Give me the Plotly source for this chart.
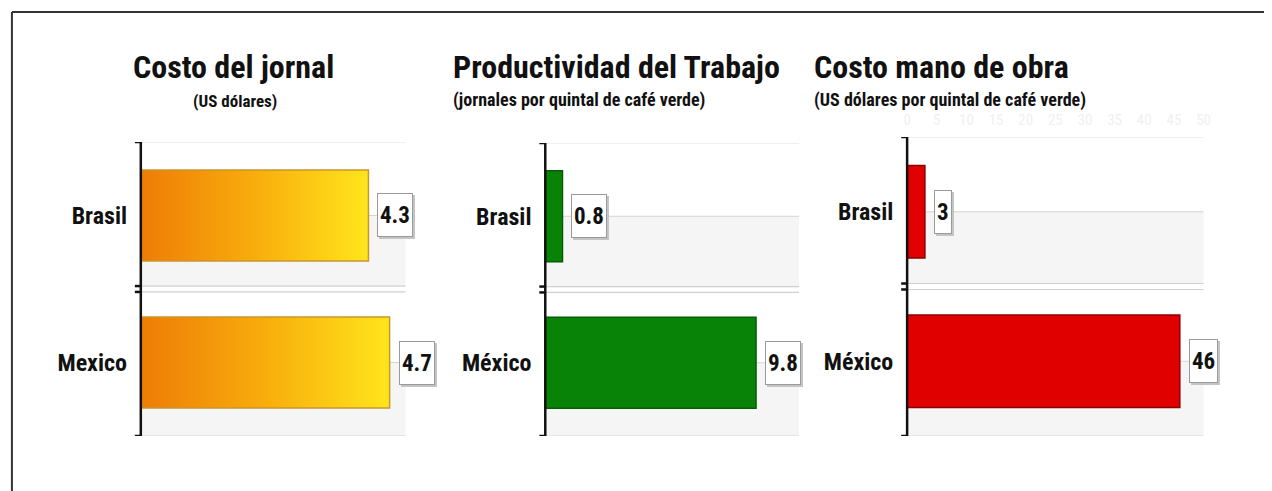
import plotly.graph_objects as go

W, H = 1272, 491

# Data
paises_jornal = ["Brasil", "Mexico"]
paises = ["Brasil", "México"]
costo_jornal = [4.3, 4.7]            # US dólares
productividad = [0.8, 9.8]           # jornales por quintal de café verde
costo_mano_obra = [3, 46]            # US dólares por quintal de café verde

titulos = ["Costo del jornal", "Productividad del Trabajo", "Costo mano de obra"]
subtitulos = ["(US dólares)", "(jornales por quintal de café verde)",
              "(US dólares por quintal de café verde)"]

FONT = "Roboto Condensed, Liberation Sans Narrow, DejaVu Sans Condensed, Arial Narrow, sans-serif"

# panel geometry in pixels: (left, right, top, bottom)
panels = [
    dict(x0=138, x1=405, y0=142, y1=436, xmax=5),
    dict(x0=546, x1=802, y0=143, y1=436, xmax=11.8),
    dict(x0=911, x1=1210, y0=137, y1=436, xmax=50),
]

BAR_W = 0.62


def px(x):
    return x / W


def py(y):
    return 1 - y / H


fig = go.Figure()
shapes = []
annotations = []

for k, p in enumerate(panels):
    sfx = "" if k == 0 else str(k + 1)
    xa, ya = "x" + sfx, "y" + sfx
    fig.layout["xaxis" + sfx] = dict(
        domain=[px(p["x0"]), px(p["x1"])], range=[0, p["xmax"]],
        anchor=ya, showgrid=False, zeroline=False, showline=False,
        showticklabels=False, fixedrange=True,
    )
    labels = paises_jornal if k == 0 else paises
    fig.layout["yaxis" + sfx] = dict(
        domain=[py(p["y1"]), py(p["y0"])], range=[1.5, -0.5],
        anchor=xa, showgrid=False, zeroline=False, showline=False,
        tickmode="array", tickvals=[0, 1],
        ticktext=["<b>%s</b>" % c for c in labels],
        ticks="outside", ticklen=8, tickcolor="rgba(0,0,0,0)",
        tickfont=dict(family=FONT, size=24, color="#111111"),
        fixedrange=True,
    )
    xd = xa + " domain"
    # shaded lower half of each category band
    for a, b in [(0, 0.48), (1, 1.5)]:
        shapes.append(dict(type="rect", xref=xd, yref=ya, x0=0, x1=1, y0=a, y1=b,
                           fillcolor="#f5f5f5", line=dict(width=0), layer="below"))
    # horizontal grid lines
    for yv, col in [(-0.5, "#e2e2e2"), (0, "#d4d4d4"), (0.48, "#d0d0d0"),
                    (0.52, "#d0d0d0"), (1, "#d4d4d4"), (1.5, "#d8d8d8")]:
        shapes.append(dict(type="line", xref=xd, yref=ya, x0=0, x1=1, y0=yv, y1=yv,
                           line=dict(color=col, width=1.2), layer="below"))
    # axis bracket
    tick = -6 / (p["x1"] - p["x0"])
    shapes.append(dict(type="line", xref=xd, yref=ya, x0=0, x1=0, y0=-0.5, y1=1.5,
                       line=dict(color="#111111", width=2.5)))
    for yv in [-0.5, 0.48, 0.52, 1.5]:
        shapes.append(dict(type="line", xref=xd, yref=ya, x0=tick, x1=0, y0=yv, y1=yv,
                           line=dict(color="#111111", width=2.5)))

# Panel 1: gradient bars
for i, v in enumerate(costo_jornal):
    fig.add_trace(go.Scatter(
        x=[0, v, v, 0, 0],
        y=[i - BAR_W / 2, i - BAR_W / 2, i + BAR_W / 2, i + BAR_W / 2, i - BAR_W / 2],
        mode="lines", fill="toself",
        fillgradient=dict(type="horizontal",
                          colorscale=[[0, "#ee7c06"], [0.5, "#f8ad0c"], [1, "#ffe51c"]]),
        line=dict(color="#c9962c", width=1.5),
        xaxis="x", yaxis="y", hoverinfo="skip", showlegend=False,
    ))

# Panels 2 and 3: solid bars
for sfx, vals, color, edge in [("2", productividad, "#088308", "#055c05"),
                               ("3", costo_mano_obra, "#e00000", "#8c0000")]:
    fig.add_trace(go.Bar(
        x=vals, y=[0, 1], orientation="h", width=BAR_W,
        marker=dict(color=color, line=dict(color=edge, width=1.5)),
        xaxis="x" + sfx, yaxis="y" + sfx, hoverinfo="skip", showlegend=False,
    ))

# value labels with boxed style and drop shadow
VS = 23
for sfx, vals in [("", costo_jornal), ("2", productividad), ("3", costo_mano_obra)]:
    for i, v in enumerate(vals):
        txt = "<b>%g</b>" % v
        common = dict(x=v, y=i, xref="x" + sfx, yref="y" + sfx, xanchor="left",
                      yanchor="middle", showarrow=False, text=txt, height=38,
                      borderpad=2, font=dict(family=FONT, size=VS, color="#111111"))
        annotations.append(dict(common, xshift=11, yshift=-2, bgcolor="#c4c4c4",
                                bordercolor="#c4c4c4", borderwidth=1,
                                font=dict(family=FONT, size=VS, color="#c4c4c4")))
        annotations.append(dict(common, xshift=9, bgcolor="#ffffff",
                                bordercolor="#9a9a9a", borderwidth=1))

# titles and subtitles
TS = 32
annotations += [
    dict(x=px(232), y=py(67), xref="paper", yref="paper", xanchor="center",
         yanchor="middle", showarrow=False, text="<b>%s</b>" % titulos[0],
         font=dict(family=FONT, size=TS, color="#111111")),
    dict(x=px(233), y=py(101), xref="paper", yref="paper", xanchor="center",
         yanchor="middle", showarrow=False, text="<b>%s</b>" % subtitulos[0],
         font=dict(family=FONT, size=17, color="#111111")),
    dict(x=px(451), y=py(67), xref="paper", yref="paper", xanchor="left",
         yanchor="middle", showarrow=False, text="<b>%s</b>" % titulos[1],
         font=dict(family=FONT, size=TS, color="#111111")),
    dict(x=px(451), y=py(100), xref="paper", yref="paper", xanchor="left",
         yanchor="middle", showarrow=False, text="<b>%s</b>" % subtitulos[1],
         font=dict(family=FONT, size=18, color="#111111")),
    dict(x=px(815), y=py(67), xref="paper", yref="paper", xanchor="left",
         yanchor="middle", showarrow=False, text="<b>%s</b>" % titulos[2],
         font=dict(family=FONT, size=TS, color="#111111")),
    dict(x=px(815), y=py(100), xref="paper", yref="paper", xanchor="left",
         yanchor="middle", showarrow=False, text="<b>%s</b>" % subtitulos[2],
         font=dict(family=FONT, size=18, color="#111111")),
]

# faint top scale on the third panel
fig.layout.xaxis3.update(side="top", showticklabels=True, tickmode="linear",
                         tick0=0, dtick=5, ticks="", ticklabelstandoff=8,
                         tickfont=dict(family=FONT, size=15, color="#f0f0f0"))

# outer frame (top and left edges)
shapes += [
    dict(type="line", xref="paper", yref="paper", x0=px(8), x1=px(W - 1), y0=py(12), y1=py(12),
         line=dict(color="#333333", width=2)),
    dict(type="line", xref="paper", yref="paper", x0=px(8), x1=px(8), y0=py(12), y1=0,
         line=dict(color="#333333", width=2)),
]

fig.update_layout(
    width=W, height=H, margin=dict(l=0, r=0, t=0, b=0),
    paper_bgcolor="#ffffff", plot_bgcolor="rgba(0,0,0,0)",
    shapes=shapes, annotations=annotations, barmode="overlay",
    font=dict(family=FONT),
)

fig.write_html("out.html")
